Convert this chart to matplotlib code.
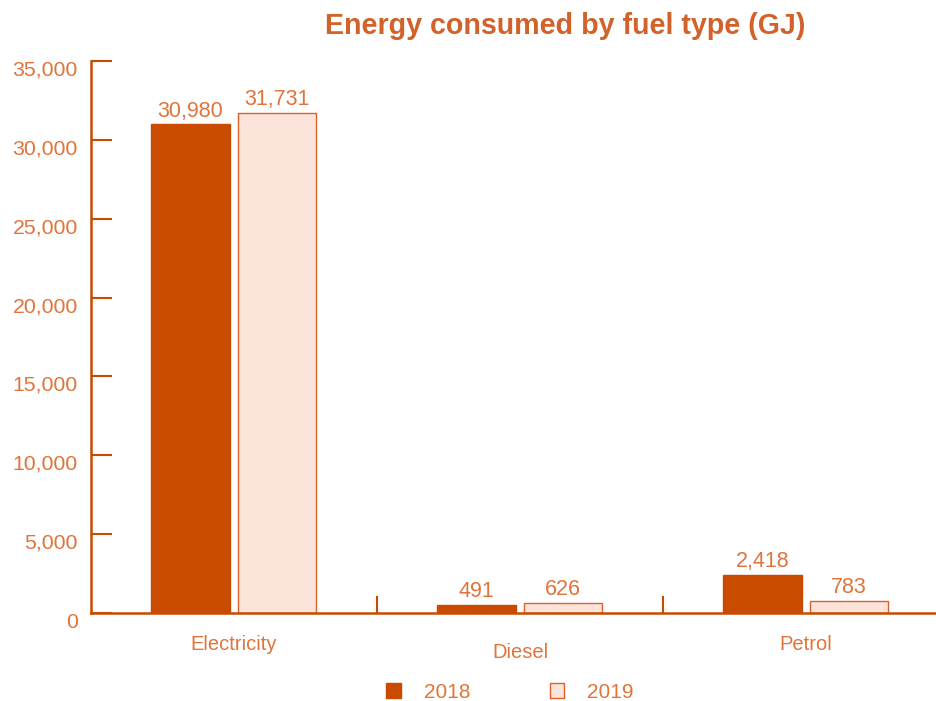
import matplotlib.pyplot as plt
import matplotlib.transforms as mtransforms
import numpy as np

plt.rcParams['font.family'] = ['Liberation Sans', 'DejaVu Sans']

fuels = ["Electricity", "Diesel", "Petrol"]
years = ["2018", "2019"]
vals_2018 = [30980, 491, 2418]
vals_2019 = [31731, 626, 783]

DARK = "#C84B00"
LIGHT = "#FDE4DB"
EDGE = "#D9622B"
TXT = "#E0743A"

fig = plt.figure(figsize=(9.37, 7.01), dpi=100)
ax = fig.add_axes([91 / 937, 88 / 701, 1 - 91 / 937, 552 / 701])

x = np.arange(len(fuels))
w = 0.273
b1 = ax.bar(x - 0.152, vals_2018, w, color=DARK, edgecolor=DARK, linewidth=1)
b2 = ax.bar(x + 0.149, vals_2019, w, color=LIGHT, edgecolor=EDGE, linewidth=1)

for bars, vals in ((b1, vals_2018), (b2, vals_2019)):
    for r, v in zip(bars, vals):
        ax.annotate("{:,}".format(v), (r.get_x() + r.get_width() / 2, v),
                    xytext=(0, 2), textcoords="offset points",
                    ha="center", va="bottom", fontsize=15.5, color=TXT)

ax.set_xlim(-0.5, -0.5 + (937 - 91) / 286)
ax.set_ylim(0, 35000)
ax.set_yticks(np.arange(0, 35001, 5000))
ax.set_yticklabels(["{:,}".format(t) for t in range(0, 35001, 5000)])
ax.tick_params(axis="y", direction="in", length=15, width=1.5, color=DARK,
               labelcolor=TXT, labelsize=15.3, pad=9.5)
off = mtransforms.ScaledTranslation(0, -7 / 100, fig.dpi_scale_trans)
for lab in ax.get_yticklabels():
    lab.set_transform(lab.get_transform() + off)

ax.set_xticks([0.5, 1.5])
ax.set_xticklabels([])
ax.tick_params(axis="x", direction="in", length=12, width=1.5, color=DARK)

for s in ("top", "right"):
    ax.spines[s].set_visible(False)
for s in ("left", "bottom"):
    ax.spines[s].set_color(DARK)
    ax.spines[s].set_linewidth(1.8)

# category names (Diesel sits a bit lower in the original)
lab_y = [-31, -39, -31]
for xi, name, dy in zip(x, fuels, lab_y):
    ax.annotate(name, (xi, 0), xytext=(0, dy * 0.72), textcoords="offset points",
                ha="center", va="center", fontsize=14.5, color=TXT,
                annotation_clip=False)

fig.text(565 / 937, 1 - 26 / 701, "Energy consumed by fuel type (GJ)",
         ha="center", va="center", fontsize=20.6, fontweight="bold", color="#D2622A")

leg = ax.legend([b1, b2], years, loc="center", bbox_to_anchor=(510 / 937, 9 / 701),
                bbox_transform=fig.transFigure, ncol=2, frameon=False,
                fontsize=15, columnspacing=3.8, handlelength=0.7, handleheight=0.7,
                handletextpad=1.1)
for t in leg.get_texts():
    t.set_color(TXT)

fig.savefig("out.png", dpi=100)
